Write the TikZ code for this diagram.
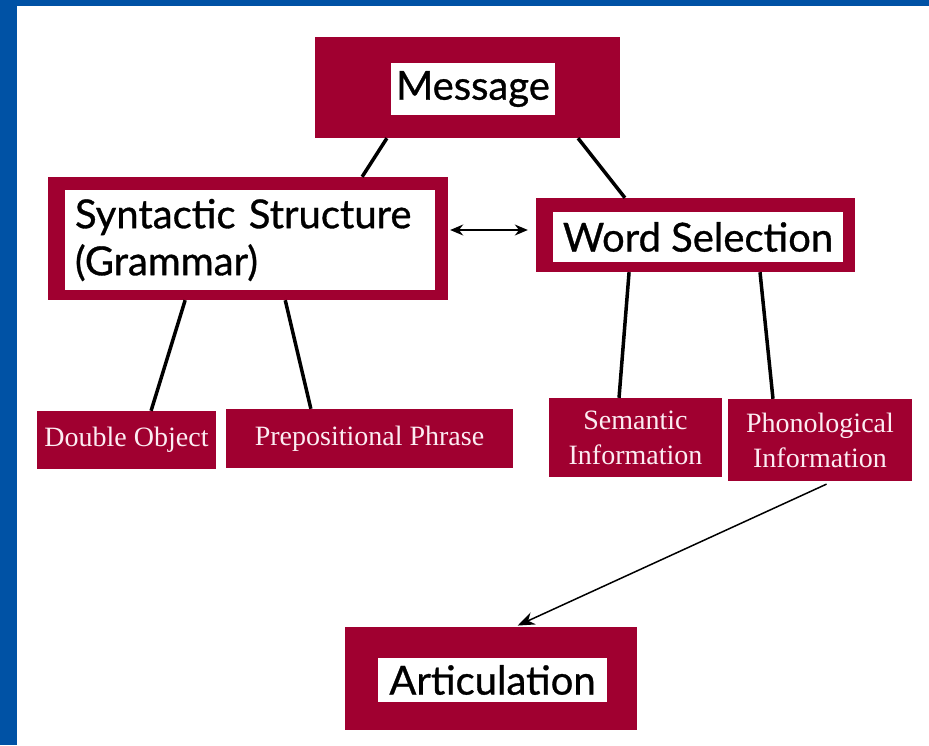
\documentclass[tikz,border=0pt]{standalone}
\usepackage{fontspec}
\setmainfont{Liberation Serif}
\newfontfamily\headfont{Lato}[FakeBold=0.8]
\usetikzlibrary{arrows.meta, calc}
\definecolor{maroon}{RGB}{160,0,48}
\definecolor{slideblue}{RGB}{0,82,165}
\definecolor{palepink}{RGB}{252,236,242}

\begin{document}
\begin{tikzpicture}[x=1pt,y=-1pt,
	frame/.style={fill=maroon, inner sep=0pt},
	titlebox/.style={fill=white, text=black, inner sep=0pt, align=left,
		font=\headfont\fontsize{40}{47}\selectfont},
	leaf/.style={fill=maroon, text=palepink, inner sep=0pt, align=center,
		font=\fontsize{28}{35}\selectfont},
	link/.style={line width=3.5pt},
	pointer/.style={line width=1.5pt}]
			% slide background
			\fill[slideblue] (0,0) rectangle (929,745);
			\fill[white] (17,6) rectangle (929,745);
			\useasboundingbox (0,0) rectangle (929,745);
			% top level
			\node[frame, minimum width=305pt, minimum height=101pt] (msg) at (467.5,87.5) {};
			\node[titlebox, minimum width=164pt, minimum height=52pt, align=center] (msgtext) at (473,89) {Message};
			% second level
			\node[frame, minimum width=400pt, minimum height=123pt] (syn) at (248,238.5) {};
			\node[titlebox, minimum width=370pt, minimum height=100pt, text width=350pt] (syntext) at (250,240) {Syntactic Structure\\(Grammar)};
			\node[frame, minimum width=319pt, minimum height=74pt] (word) at (695.5,235) {};
			\node[titlebox, minimum width=290pt, minimum height=50pt, align=center] (wordtext) at (698,237) {Word Selection};
			% leaves
			\node[leaf, minimum width=179pt, minimum height=58pt] (dbl) at (126.5,440) {Double Object};
			\node[leaf, minimum width=287pt, minimum height=59pt] (prep) at (369.5,438.5) {Prepositional Phrase};
			\node[leaf, minimum width=173pt, minimum height=79pt] (sem) at (635.5,437.5) {Semantic\\Information};
			\node[leaf, minimum width=184pt, minimum height=82pt] (phon) at (820,440) {Phonological\\Information};
			% output
			\node[frame, minimum width=292pt, minimum height=103pt] (art) at (491,678.5) {};
			\node[titlebox, minimum width=229pt, minimum height=44pt, align=center] (arttext) at (492.5,680) {Articulation};
			% connectors
			\draw[link] ($(msg.south west)!.236!(msg.south east)$) -- ($(syn.north west)!.785!(syn.north east)$);
			\draw[link] ($(msg.south west)!.862!(msg.south east)$) -- ($(word.north west)!.279!(word.north east)$);
			\draw[link] ($(syn.south west)!.343!(syn.south east)$) -- ($(dbl.north west)!.637!(dbl.north east)$);
			\draw[link] ($(syn.south west)!.593!(syn.south east)$) -- ($(prep.north west)!.296!(prep.north east)$);
			\draw[link] ($(word.south west)!.292!(word.south east)$) -- ($(sem.north west)!.405!(sem.north east)$);
			\draw[link] ($(word.south west)!.702!(word.south east)$) -- ($(phon.north west)!.245!(phon.north east)$);
			\coordinate (midrow) at (0,230);
			\draw[pointer, {Stealth[length=13pt,width=11pt]}-{Stealth[length=13pt,width=11pt]}, shorten <=2pt, shorten >=8pt] (syn.east |- midrow) -- (word.west |- midrow);
			\draw[pointer, -{Stealth[length=17pt,width=13pt]}, shorten <=7pt, shorten >=3pt] ($(phon.south west)!.57!(phon.south east)$) -- ($(art.north west)!.582!(art.north east)$);
		\end{tikzpicture}
\end{document}
